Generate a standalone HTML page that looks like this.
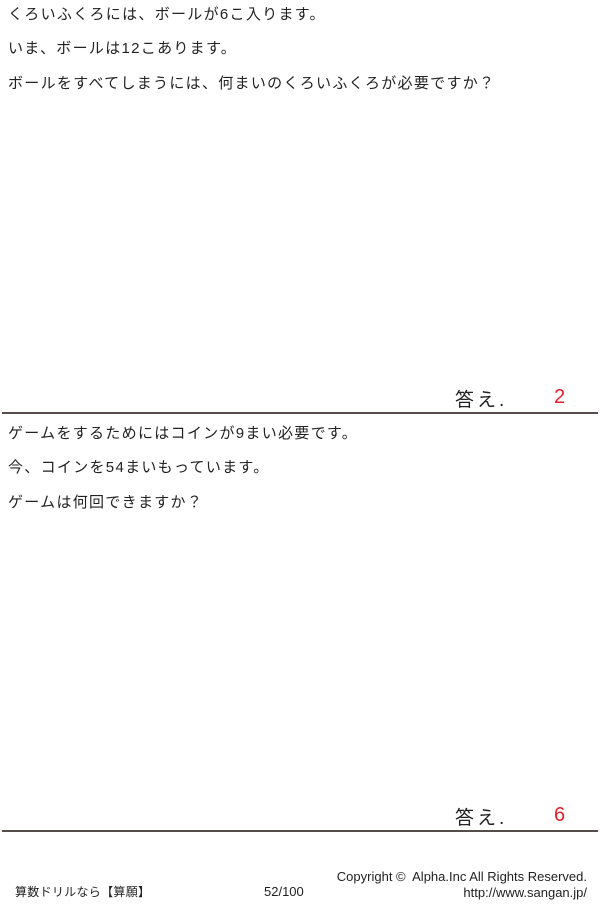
<!DOCTYPE html>
<html><head><meta charset="utf-8"><style>
body{margin:0;width:600px;height:904px;background:#fff;position:relative;font-family:"Liberation Sans","Noto Sans CJK JP",sans-serif;color:#222;overflow:hidden}
.t{position:absolute;left:8px;font-size:15px;letter-spacing:1.3px;line-height:20px;white-space:nowrap}
.hr{position:absolute;left:2px;width:596px;height:2px;background:#554c4c}
.ans{position:absolute;left:455px;font-size:19px;letter-spacing:3px;white-space:nowrap;line-height:24px}
.num{position:absolute;left:554px;font-size:20px;color:#e8202a;line-height:24px}
.f{position:absolute;font-size:12px;white-space:nowrap;line-height:14px}
</style></head><body>
<div class="t" style="top:5px">くろいふくろには、ボールが6こ入ります。</div>
<div class="t" style="top:39px">いま、ボールは12こあります。</div>
<div class="t" style="top:74px">ボールをすべてしまうには、何まいのくろいふくろが必要ですか？</div>
<div class="ans" style="top:389px">答え.</div>
<div class="num" style="top:385px">2</div>
<div class="hr" style="top:412px"></div>
<div class="t" style="top:424px">ゲームをするためにはコインが9まい必要です。</div>
<div class="t" style="top:458px">今、コインを54まいもっています。</div>
<div class="t" style="top:493px">ゲームは何回できますか？</div>
<div class="ans" style="top:807px">答え.</div>
<div class="num" style="top:803px">6</div>
<div class="hr" style="top:830px"></div>
<div class="f" style="left:15px;top:885px;letter-spacing:0.3px">算数ドリルなら【算願】</div>
<div class="f" style="left:264px;top:885px;font-size:13px">52/100</div>
<div class="f" style="right:13px;top:870px;font-size:13px">Copyright ©&nbsp; Alpha.Inc All Rights Reserved.</div>
<div class="f" style="right:13px;top:886px;font-size:13px">http://www.sangan.jp/</div>
</body></html>
